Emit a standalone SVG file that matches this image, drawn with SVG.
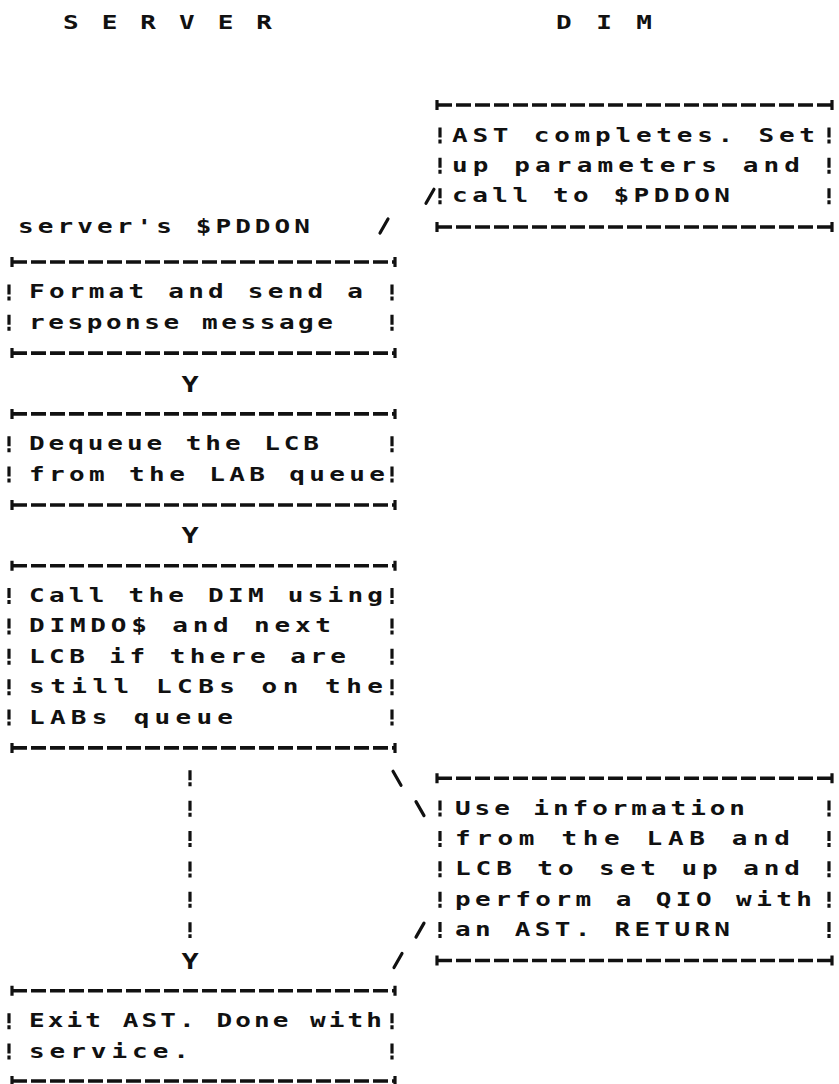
<svg xmlns="http://www.w3.org/2000/svg" width="839" height="1084" viewBox="0 0 839 1084">
<style>
  text { font-family: "DejaVu Sans Mono", "Liberation Mono", monospace; font-weight: bold; font-size: 26px; fill: #111; }
  .mid { text-anchor: middle; }
  .hb { fill: none; stroke: #111; stroke-width: 3.6; stroke-dasharray: 15 4; }
  .pl { fill: none; stroke: #111; stroke-width: 3.2; }
  .sd { fill: none; stroke: #111; stroke-width: 3.2; stroke-dasharray: 10 2 4 14.37; }
  .sl { fill: none; stroke: #111; stroke-width: 3.2; stroke-linecap: round; }
</style>
<rect width="839" height="1084" fill="#fff"/>

<g id="titles">
  <text transform="matrix(1 0 0 0.78 63 29)" textLength="209" lengthAdjust="spacing">S E R V E R</text>
  <text transform="matrix(1 0 0 0.78 556 29)" textLength="96" lengthAdjust="spacing">D I M</text>
</g>

<g id="dim-box">
  <path class="hb" d="M437 105H832M437 227H832"/>
  <path class="pl" d="M437 100v10M832 100v10M437 222v10M832 222v10"/>
  <path class="sd" d="M440 127.5V204.3M829 127.5V204.3"/>
  <text transform="matrix(1 0 0 0.78 452 141.5)" textLength="363" lengthAdjust="spacing">AST completes. Set</text>
  <text transform="matrix(1 0 0 0.78 452 171.9)" textLength="348" lengthAdjust="spacing">up parameters and</text>
  <text transform="matrix(1 0 0 0.78 452 202.3)" textLength="278" lengthAdjust="spacing">call to $PDDON</text>
</g>

<g id="format-box">
  <path class="hb" d="M12 262H395M12 353.1H395"/>
  <path class="pl" d="M12 257v10M395 257v10M12 348.1v10M395 348.1v10"/>
  <path class="sd" d="M9 284.4V330.7M392 284.4V330.7"/>
  <text transform="matrix(1 0 0 0.78 29 298.4)" textLength="334" lengthAdjust="spacing">Format and send a</text>
  <text transform="matrix(1 0 0 0.78 29 328.7)" textLength="304" lengthAdjust="spacing">response message</text>
</g>

<g id="dequeue-box">
  <path class="hb" d="M12 413.9H395M12 505H395"/>
  <path class="pl" d="M12 408.9v10M395 408.9v10M12 500v10M395 500v10"/>
  <path class="sd" d="M9 436.2V482.6M392 436.2V482.6"/>
  <text transform="matrix(1 0 0 0.78 29 450.2)" textLength="290" lengthAdjust="spacing">Dequeue the LCB</text>
  <text transform="matrix(1 0 0 0.78 29 480.6)" textLength="356" lengthAdjust="spacing">from the LAB queue</text>
</g>

<g id="call-box">
  <path class="hb" d="M12 565.7H395M12 747.9H395"/>
  <path class="pl" d="M12 560.7v10M395 560.7v10M12 742.9v10M395 742.9v10"/>
  <path class="sd" d="M9 588.1V725.5M392 588.1V725.5"/>
  <text transform="matrix(1 0 0 0.78 29 602.1)" textLength="354" lengthAdjust="spacing">Call the DIM using</text>
  <text transform="matrix(1 0 0 0.78 29 632.4)" textLength="302" lengthAdjust="spacing">DIMDO$ and next</text>
  <text transform="matrix(1 0 0 0.78 29 662.8)" textLength="317" lengthAdjust="spacing">LCB if there are</text>
  <text transform="matrix(1 0 0 0.78 29 693.2)" textLength="354" lengthAdjust="spacing">still LCBs on the</text>
  <text transform="matrix(1 0 0 0.78 29 723.5)" textLength="204" lengthAdjust="spacing">LABs queue</text>
</g>

<g id="use-box">
  <path class="hb" d="M437 778.3H832M437 960.5H832"/>
  <path class="pl" d="M437 773.3v10M832 773.3v10M437 955.5v10M832 955.5v10"/>
  <path class="sd" d="M440 800.6V938.1M829 800.6V938.1"/>
  <text transform="matrix(1 0 0 0.78 455 814.6)" textLength="290" lengthAdjust="spacing">Use information</text>
  <text transform="matrix(1 0 0 0.78 455 845)" textLength="335" lengthAdjust="spacing">from the LAB and</text>
  <text transform="matrix(1 0 0 0.78 455 875.4)" textLength="345" lengthAdjust="spacing">LCB to set up and</text>
  <text transform="matrix(1 0 0 0.78 455 905.7)" textLength="357" lengthAdjust="spacing">perform a QIO with</text>
  <text transform="matrix(1 0 0 0.78 455 936.1)" textLength="275" lengthAdjust="spacing">an AST. RETURN</text>
</g>

<g id="exit-box">
  <path class="hb" d="M12 990.8H395M12 1081H395"/>
  <path class="pl" d="M12 985.8v10M395 985.8v10M12 1076v10M395 1076v10"/>
  <path class="sd" d="M9 1013.2V1059.6M392 1013.2V1059.6"/>
  <text transform="matrix(1 0 0 0.78 29 1027.2)" textLength="353" lengthAdjust="spacing">Exit AST.  Done with</text>
  <text transform="matrix(1 0 0 0.78 29 1057.6)" textLength="160" lengthAdjust="spacing">service.</text>
</g>

<g id="connectors">
  <text class="mid" transform="matrix(1.1 0 0 0.85 190 391.5)">Y</text>
  <text class="mid" transform="matrix(1.1 0 0 0.85 190 543.3)">Y</text>
  <path class="sd" d="M190 770.3V938.1"/>
  <text class="mid" transform="matrix(1.1 0 0 0.85 190 968.5)">Y</text>
  <path class="sl" d="M393 771.3L401 785.3M416 801.6L424 815.6"/>
  <path class="sl" d="M416 937.1L424 923.1M394 967.5L402 953.5"/>
  <path class="sl" d="M426 203.3L434 189.3M380 233L388 219"/>
  <text transform="matrix(1 0 0 0.78 18 233)" textLength="292" lengthAdjust="spacing">server's $PDDON</text>
</g>
</svg>
